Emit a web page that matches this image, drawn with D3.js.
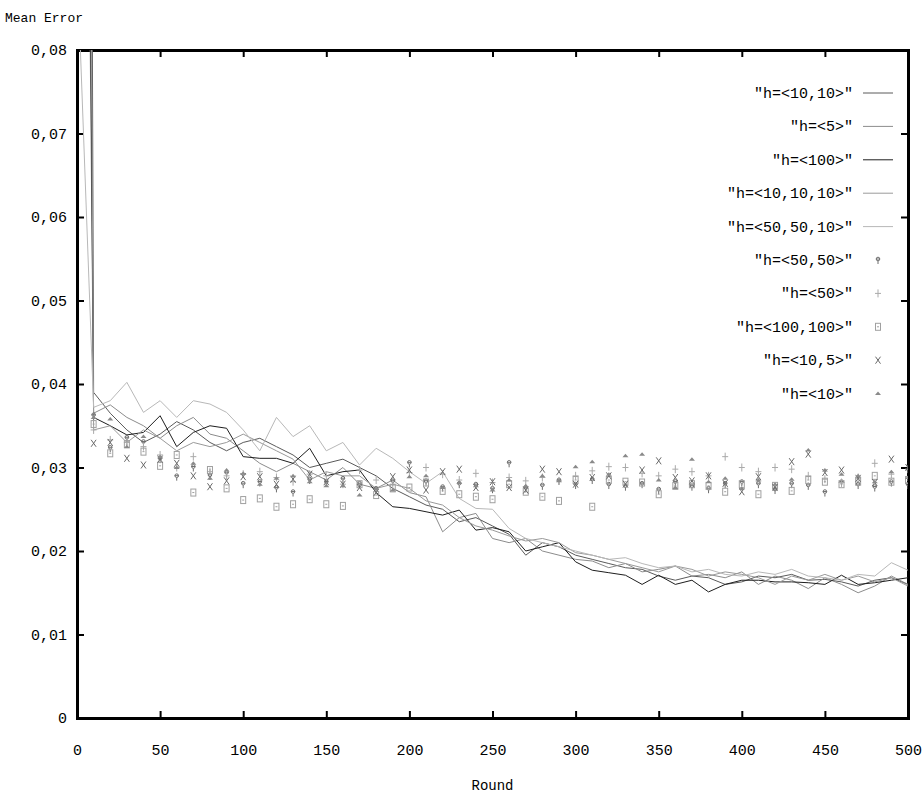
<!DOCTYPE html>
<html>
<head>
<meta charset="utf-8">
<script src="https://cdn.jsdelivr.net/npm/d3@7"></script>
<style>
  body { margin: 0; background: #fff; }
  svg text { font-family: "Liberation Mono", "DejaVu Sans Mono", monospace; font-size: 15px; fill: #000; }
</style>
</head>
<body>
<div id="chart"></div>
<script>
// rounds: lines have a value at round 0, point series start at round 10
const lineRounds = d3.range(0, 501, 10);
const pointRounds = d3.range(10, 501, 10);

const lineNames = ['"h=<10,10>"', '"h=<5>"', '"h=<100>"', '"h=<10,10,10>"', '"h=<50,50,10>"'];
const pointNames = ['"h=<50,50>"', '"h=<50>"', '"h=<100,100>"', '"h=<10,5>"', '"h=<10>"'];

const h10_10 = [0.60,
  0.0390, 0.0365, 0.0345, 0.0330, 0.0340, 0.0355, 0.0345, 0.0330, 0.0320, 0.0330,
  0.0335, 0.0325, 0.0315, 0.0300, 0.0305, 0.0310, 0.0300, 0.0290, 0.0275, 0.0265,
  0.0255, 0.0250, 0.0235, 0.0240, 0.0230, 0.0220, 0.0195, 0.0210, 0.0205, 0.0195,
  0.0190, 0.0185, 0.0180, 0.0178, 0.0170, 0.0165, 0.0170, 0.0168, 0.0160, 0.0163,
  0.0170, 0.0168, 0.0172, 0.0165, 0.0166, 0.0163, 0.0158, 0.0165, 0.0168, 0.0160];
const h5 = [0.25,
  0.0365, 0.0375, 0.0360, 0.0350, 0.0335, 0.0350, 0.0360, 0.0340, 0.0335, 0.0320,
  0.0305, 0.0295, 0.0305, 0.0295, 0.0285, 0.0300, 0.0280, 0.0275, 0.0285, 0.0270,
  0.0265, 0.0223, 0.0240, 0.0245, 0.0215, 0.0210, 0.0215, 0.0200, 0.0195, 0.0190,
  0.0188, 0.0180, 0.0185, 0.0175, 0.0178, 0.0182, 0.0170, 0.0172, 0.0168, 0.0175,
  0.0160, 0.0170, 0.0165, 0.0155, 0.0168, 0.0160, 0.0150, 0.0158, 0.0170, 0.0160];
const h100 = [0.30,
  0.0360, 0.0350, 0.0339, 0.0342, 0.0362, 0.0325, 0.0342, 0.0350, 0.0347, 0.0313,
  0.0311, 0.0311, 0.0305, 0.0323, 0.0290, 0.0295, 0.0297, 0.0270, 0.0253, 0.0251,
  0.0247, 0.0243, 0.0249, 0.0225, 0.0228, 0.0223, 0.0200, 0.0205, 0.0210, 0.0187,
  0.0177, 0.0174, 0.0171, 0.0160, 0.0171, 0.0160, 0.0165, 0.0151, 0.0160, 0.0165,
  0.0165, 0.0163, 0.0163, 0.0162, 0.0160, 0.0171, 0.0160, 0.0162, 0.0165, 0.0168];
const h10_10_10 = [0.40,
  0.0345, 0.0350, 0.0330, 0.0345, 0.0335, 0.0320, 0.0330, 0.0325, 0.0330, 0.0340,
  0.0330, 0.0320, 0.0310, 0.0285, 0.0295, 0.0290, 0.0290, 0.0275, 0.0280, 0.0275,
  0.0260, 0.0255, 0.0240, 0.0230, 0.0225, 0.0218, 0.0212, 0.0215, 0.0210, 0.0198,
  0.0195, 0.0190, 0.0185, 0.0180, 0.0175, 0.0182, 0.0178, 0.0170, 0.0175, 0.0172,
  0.0168, 0.0160, 0.0170, 0.0165, 0.0172, 0.0165, 0.0170, 0.0163, 0.0168, 0.0158];
const h50_50_10 = [0.091,
  0.0372, 0.0380, 0.0402, 0.0366, 0.0380, 0.0360, 0.0380, 0.0376, 0.0366, 0.0345,
  0.0320, 0.0360, 0.0337, 0.0350, 0.0320, 0.0330, 0.0303, 0.0323, 0.0311, 0.0295,
  0.0281, 0.0295, 0.0263, 0.0251, 0.0250, 0.0227, 0.0215, 0.0210, 0.0205, 0.0200,
  0.0195, 0.0190, 0.0192, 0.0185, 0.0180, 0.0182, 0.0175, 0.0178, 0.0172, 0.0170,
  0.0175, 0.0172, 0.0178, 0.0170, 0.0168, 0.0165, 0.0172, 0.0170, 0.0186, 0.0177];

const h50_50 = [
  0.0362, 0.0323, 0.0335, 0.0330, 0.0310, 0.0289, 0.0300, 0.0290, 0.0293, 0.0280,
  0.0282, 0.0275, 0.0270, 0.0285, 0.0282, 0.0286, 0.0280, 0.0274, 0.0283, 0.0305,
  0.0283, 0.0276, 0.0280, 0.0279, 0.0274, 0.0305, 0.0275, 0.0278, 0.0284, 0.0279,
  0.0285, 0.0279, 0.0277, 0.0280, 0.0273, 0.0282, 0.0277, 0.0274, 0.0280, 0.0282,
  0.0280, 0.0273, 0.0280, 0.0278, 0.0270, 0.0282, 0.0279, 0.0276, 0.0282, 0.0279];
const h50 = [
  0.0345, 0.0333, 0.0330, 0.0325, 0.0315, 0.0300, 0.0313, 0.0295, 0.0290, 0.0292,
  0.0295, 0.0288, 0.0283, 0.0292, 0.0290, 0.0280, 0.0297, 0.0285, 0.0280, 0.0294,
  0.0300, 0.0292, 0.0285, 0.0293, 0.0282, 0.0288, 0.0284, 0.0288, 0.0284, 0.0290,
  0.0296, 0.0301, 0.0300, 0.0293, 0.0290, 0.0298, 0.0295, 0.0290, 0.0313, 0.0300,
  0.0295, 0.0300, 0.0298, 0.0290, 0.0286, 0.0282, 0.0288, 0.0305, 0.0292, 0.0298];
const h100_100 = [
  0.0352, 0.0317, 0.0328, 0.0319, 0.0302, 0.0315, 0.0270, 0.0297, 0.0275, 0.0261,
  0.0263, 0.0253, 0.0256, 0.0262, 0.0256, 0.0254, 0.0280, 0.0267, 0.0275, 0.0276,
  0.0282, 0.0272, 0.0268, 0.0265, 0.0262, 0.0280, 0.0271, 0.0265, 0.0260, 0.0285,
  0.0253, 0.0285, 0.0283, 0.0282, 0.0268, 0.0278, 0.0280, 0.0278, 0.0271, 0.0280,
  0.0268, 0.0278, 0.0272, 0.0285, 0.0283, 0.0280, 0.0283, 0.0290, 0.0283, 0.0285];
const h10_5 = [
  0.0329, 0.0330, 0.0311, 0.0303, 0.0310, 0.0305, 0.0290, 0.0277, 0.0284, 0.0289,
  0.0289, 0.0280, 0.0286, 0.0292, 0.0283, 0.0280, 0.0276, 0.0270, 0.0289, 0.0297,
  0.0273, 0.0295, 0.0298, 0.0276, 0.0283, 0.0276, 0.0273, 0.0298, 0.0295, 0.0280,
  0.0288, 0.0290, 0.0280, 0.0297, 0.0308, 0.0288, 0.0284, 0.0290, 0.0281, 0.0271,
  0.0289, 0.0276, 0.0307, 0.0316, 0.0294, 0.0297, 0.0287, 0.0282, 0.0310, 0.0300];
const h10 = [
  0.0360, 0.0358, 0.0325, 0.0337, 0.0313, 0.0300, 0.0305, 0.0287, 0.0297, 0.0293,
  0.0280, 0.0287, 0.0290, 0.0283, 0.0278, 0.0278, 0.0267, 0.0275, 0.0273, 0.0289,
  0.0290, 0.0276, 0.0282, 0.0278, 0.0273, 0.0285, 0.0278, 0.0290, 0.0284, 0.0301,
  0.0307, 0.0292, 0.0314, 0.0316, 0.0285, 0.0276, 0.0310, 0.0283, 0.0287, 0.0275,
  0.0285, 0.0280, 0.0286, 0.0321, 0.0297, 0.0292, 0.0290, 0.0283, 0.0295, 0.0288];

const xTicks = d3.range(0, 501, 50);
const yTicks = d3.range(0, 0.0801, 0.01);

const lineSeries = [h10_10, h5, h100, h10_10_10, h50_50_10];
const lineColors = ["#5a5a5a", "#8c8c8c", "#1e1e1e", "#9a9a9a", "#b8b8b8"];
const pointSeries = [h50_50, h50, h100_100, h10_5, h10];
const pointColors = ["#6e6e6e", "#aaaaaa", "#a0a0a0", "#6a6a6a", "#8a8a8a"];
const pointKinds = ["phi", "plus", "box", "cross", "tri"];

const W = 924, H = 797;
const margin = { top: 50, right: 16, bottom: 79, left: 77 };
const width = W - margin.left - margin.right;
const height = H - margin.top - margin.bottom;

const svg = d3.select("#chart").append("svg")
    .attr("width", W)
    .attr("height", H);

svg.append("defs").append("clipPath").attr("id", "clip")
    .append("rect").attr("width", width).attr("height", height);

const g = svg.append("g").attr("transform", `translate(${margin.left},${margin.top})`);

const x = d3.scaleLinear().domain([0, 500]).range([0, width]);
const y = d3.scaleLinear().domain([0, 0.08]).range([height, 0]);

// axes, ticks drawn inward and mirrored; decimal comma as in the original
g.append("g")
    .attr("transform", `translate(0,${height})`)
    .call(d3.axisBottom(x).tickValues(xTicks).tickSize(-7).tickPadding(26).tickFormat(d3.format("d")));
g.append("g")
    .call(d3.axisLeft(y).tickValues(yTicks).tickSize(-7).tickPadding(10)
        .tickFormat(d => d === 0 ? "0" : d3.format(".2f")(d).replace(".", ",")));
g.append("g")
    .call(d3.axisTop(x).tickValues(xTicks).tickSize(-7).tickFormat(""));
g.append("g")
    .attr("transform", `translate(${width},0)`)
    .call(d3.axisRight(y).tickValues(yTicks).tickSize(-7).tickFormat(""));

g.selectAll(".domain").attr("stroke", "#000").attr("stroke-width", 3);
g.selectAll(".tick line").attr("stroke", "#000").attr("stroke-width", 2);
g.selectAll(".tick text").style("font-family", "Liberation Mono, DejaVu Sans Mono, monospace").style("font-size", "15px");

// lines
const line = d3.line().x(d => x(d[0])).y(d => y(d[1]));
const plot = g.append("g").attr("clip-path", "url(#clip)");

lineSeries.forEach((vals, i) => {
    plot.append("path")
        .datum(lineRounds.map((r, j) => [r, vals[j]]))
        .attr("fill", "none")
        .attr("stroke", lineColors[i])
        .attr("stroke-width", 1)
        .attr("d", line);
});

function drawGlyph(sel, kind, color) {
    if (kind === "phi") {
        sel.append("circle").attr("cx", 0).attr("cy", -1).attr("r", 1.8)
            .attr("fill", "none").attr("stroke", color).attr("stroke-width", 1);
        sel.append("line").attr("x1", 0).attr("x2", 0).attr("y1", 1).attr("y2", 4).attr("stroke", color);
        sel.append("line").attr("x1", -2).attr("x2", 2).attr("y1", -1).attr("y2", -1).attr("stroke", color);
    } else if (kind === "plus") {
        sel.append("line").attr("x1", -3).attr("x2", 3).attr("y1", 0).attr("y2", 0).attr("stroke", color);
        sel.append("line").attr("x1", 0).attr("x2", 0).attr("y1", -4).attr("y2", 4).attr("stroke", color);
    } else if (kind === "box") {
        sel.append("rect").attr("x", -2.5).attr("y", -3.5).attr("width", 5).attr("height", 7)
            .attr("fill", "none").attr("stroke", color);
        sel.append("line").attr("x1", -1).attr("x2", 1).attr("y1", 0).attr("y2", 0).attr("stroke", color);
    } else if (kind === "cross") {
        sel.append("path").attr("d", "M-2.5,-3.5L2.5,3.5M2.5,-3.5L-2.5,3.5")
            .attr("fill", "none").attr("stroke", color);
    } else {
        sel.append("path").attr("d", "M-3,1.5L0,-2L3,1.5Z").attr("fill", color);
    }
}

pointSeries.forEach((vals, i) => {
    const grp = plot.append("g");
    pointRounds.forEach((r, j) => {
        const p = grp.append("g").attr("transform", `translate(${x(r)},${y(vals[j])})`);
        drawGlyph(p, pointKinds[i], pointColors[i]);
    });
});

// legend
const legend = g.append("g");
const rowH = 33.4;
lineNames.concat(pointNames).forEach((name, i) => {
    const row = legend.append("g").attr("transform", `translate(0,${43 + i * rowH})`);
    row.append("text")
        .attr("x", 776)
        .attr("y", 5)
        .attr("text-anchor", "end")
        .text(name);
    if (i < 5) {
        row.append("line").attr("x1", 786).attr("x2", 816).attr("y1", 0).attr("y2", 0)
            .attr("stroke", lineColors[i]);
    } else {
        const p = row.append("g").attr("transform", "translate(801,0)");
        drawGlyph(p, pointKinds[i - 5], pointColors[i - 5]);
    }
});

// axis titles
svg.append("text").attr("x", 5).attr("y", 22).text("Mean Error").style("font-size", "13px");
svg.append("text").attr("x", margin.left + x(250)).attr("y", 790)
    .attr("text-anchor", "middle").text("Round").style("font-size", "14px");
</script>
</body>
</html>
